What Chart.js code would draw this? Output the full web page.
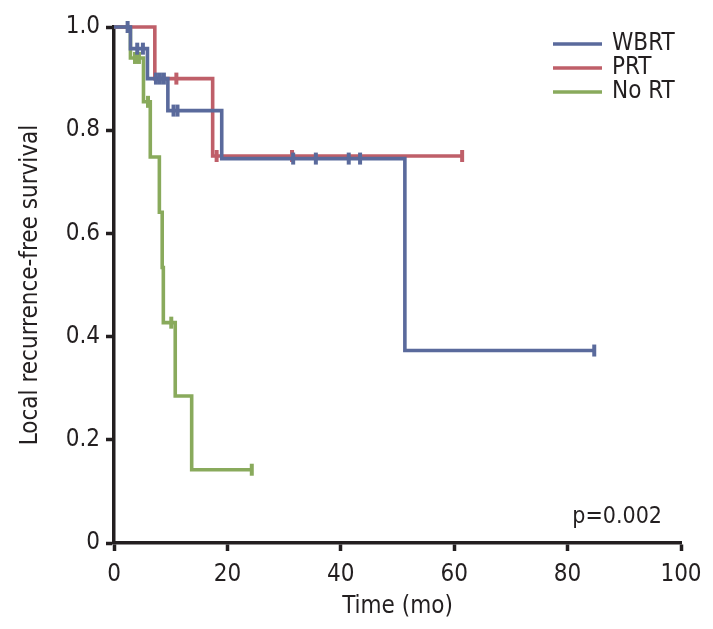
<!DOCTYPE html>
<html>
<head>
<meta charset="utf-8">
<script src="https://cdn.jsdelivr.net/npm/chart.js@4.4.1/dist/chart.umd.min.js"></script>
<style>
  html, body { margin: 0; padding: 0; background: #fff; }
  #chart { display: block; }
</style>
</head>
<body>
<canvas id="chart" width="713" height="629"></canvas>
<script>
// Kaplan-Meier curves: event times (mo) and survival after each step
const wbrtTimes = [0, 2.9, 5.9, 9.5, 19.0, 51.3, 84.7];
const wbrtSurv = [1.0, 0.958, 0.900, 0.838, 0.745, 0.373, 0.373];
const wbrtCensored = [2.4, 4.1, 5.1, 7.4, 8.1, 8.8, 10.5, 11.2, 31.6, 35.6, 41.4, 43.4, 84.7];

const prtTimes = [0, 7.2, 17.4, 61.4];
const prtSurv = [1.0, 0.90, 0.75, 0.75];
const prtCensored = [11.0, 18.1, 31.4, 61.4];

const noRtTimes = [0, 2.9, 5.2, 6.4, 8.0, 8.5, 8.7, 10.8, 13.7, 24.3];
const noRtSurv = [1.0, 0.940, 0.855, 0.748, 0.641, 0.534, 0.427, 0.285, 0.142, 0.142];
const noRtCensored = [3.7, 4.4, 6.0, 10.1, 24.3];

const xTicks = [0, 20, 40, 60, 80, 100];
const yTicks = [0, 0.2, 0.4, 0.6, 0.8, 1.0];
const pValue = 'p=0.002';

const FONT = '"Liberation Sans Narrow", "DejaVu Sans Condensed", "Roboto Condensed", "Liberation Sans", sans-serif';
const INK = '#231f20';
const BLUE = '#5a6a9c';
const RED = '#bf5f69';
const GREEN = '#89aa5c';

const curve = (times, surv) => times.map((t, i) => ({ x: t, y: surv[i] }));

// survival value of a step curve at time t (used to put censor ticks on the curve)
const stepAt = (times, surv, t) => {
  let v = surv[0];
  for (let i = 0; i < times.length; i++) if (times[i] <= t) v = surv[i];
  return v;
};
const marks = (cens, times, surv) => cens.map(t => ({ x: t, y: stepAt(times, surv, t) }));

const lineDs = (label, data, color, order) => ({
  label, data, type: 'line', stepped: 'before', borderColor: color, borderWidth: 3.6,
  pointRadius: 0, fill: false, clip: false, order,
});
const censorDs = (data, color, order) => ({
  label: '', data, type: 'scatter', showLine: false, pointStyle: 'line', rotation: 90,
  pointRadius: 6, pointBorderWidth: 4, borderColor: color, backgroundColor: color,
  pointHoverRadius: 6, clip: false, order,
});

const legendItems = [
  { text: 'WBRT', color: BLUE },
  { text: 'PRT', color: RED },
  { text: 'No RT', color: GREEN },
];

const overlay = {
  id: 'overlay',
  afterDraw(chart) {
    const ctx = chart.ctx;
    ctx.save();
    ctx.font = '24px ' + FONT;
    ctx.textBaseline = 'middle';
    ctx.fillStyle = INK;
    legendItems.forEach((it, i) => {
      const y = 44 + i * 24;
      ctx.strokeStyle = it.color;
      ctx.lineWidth = 3.6;
      ctx.beginPath();
      ctx.moveTo(553, y);
      ctx.lineTo(602, y);
      ctx.stroke();
      ctx.fillText(it.text, 612, y);
    });
    ctx.font = '23px ' + FONT;
    ctx.textAlign = 'right';
    ctx.fillText(pValue, 662, 517);
    ctx.restore();
  }
};

const axisCommon = {
  border: { display: true, color: INK, width: 3.5 },
  grid: { drawOnChartArea: false, drawTicks: true, tickLength: 8, tickWidth: 3.5, tickColor: INK },
};

new Chart(document.getElementById('chart'), {
  type: 'line',
  data: {
    datasets: [
      lineDs('WBRT', curve(wbrtTimes, wbrtSurv), BLUE, 1),
      lineDs('PRT', curve(prtTimes, prtSurv), RED, 3),
      lineDs('No RT', curve(noRtTimes, noRtSurv), GREEN, 5),
      censorDs(marks(wbrtCensored, wbrtTimes, wbrtSurv), BLUE, 0),
      censorDs(marks(prtCensored, prtTimes, prtSurv), RED, 2),
      censorDs(marks(noRtCensored, noRtTimes, noRtSurv), GREEN, 4),
    ],
  },
  options: {
    responsive: false,
    animation: false,
    devicePixelRatio: 1,
    layout: { padding: { top: 27, right: 32, left: 0, bottom: 0 } },
    plugins: { legend: { display: false }, tooltip: { enabled: false } },
    scales: {
      x: {
        ...axisCommon,
        type: 'linear', min: 0, max: 100,
        afterBuildTicks: s => { s.ticks = xTicks.map(v => ({ value: v })); },
        afterFit: s => { s.height = 86; },
        ticks: { color: INK, font: { family: FONT, size: 24 }, padding: 9, maxRotation: 0 },
        title: { display: true, text: 'Time (mo)', color: INK, font: { family: FONT, size: 24, lineHeight: 1.2 }, padding: { top: 0, bottom: 8 } },
      },
      y: {
        ...axisCommon,
        type: 'linear', min: 0, max: 1,
        afterBuildTicks: s => { s.ticks = yTicks.map(v => ({ value: v })); },
        afterFit: s => { s.width = 114; },
        ticks: { color: INK, font: { family: FONT, size: 24 }, padding: 6, callback: v => v === 0 ? '0' : v.toFixed(1) },
        title: { display: true, text: 'Local recurrence-free survival', color: INK, font: { family: FONT, size: 24, lineHeight: 1.2 }, padding: { top: 16, bottom: 0 } },
      },
    },
  },
  plugins: [overlay],
});
</script>
</body>
</html>
